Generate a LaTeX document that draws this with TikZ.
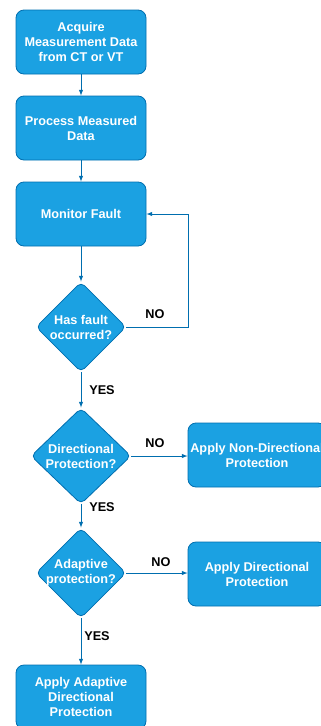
\documentclass[tikz,border=0pt]{standalone}
\usepackage{fontspec}
\setmainfont{Liberation Sans}
\usetikzlibrary{shapes.geometric}
\definecolor{boxfill}{HTML}{1BA1E2}
\definecolor{boxline}{HTML}{006EAF}
\begin{document}
\begin{tikzpicture}[x=1pt,y=-1pt,
    stepbox/.style={draw=boxline,fill=boxfill,rounded corners=8pt,line width=0.8pt,
      minimum width=130pt,minimum height=64pt,inner sep=0pt,align=center,
      text=white,font=\bfseries\fontsize{12.7}{15}\selectfont},
    wide/.style={stepbox,minimum width=138pt},
    query/.style={diamond,draw=boxline,fill=boxfill,rounded corners=5pt,line width=0.8pt,
      minimum width=90pt,minimum height=90pt,inner sep=-8pt,align=center,
      text=white,font=\bfseries\fontsize{12.7}{15}\selectfont},
    tag/.style={font=\bfseries\fontsize{12.7}{15}\selectfont},
    arr/.style={-latex,draw=boxline,line width=1pt}]
  \useasboundingbox (0,0) rectangle (321,726);
  \draw
    (81,42) node[stepbox] (acq){Acquire\\Measurement Data\\from CT or VT}
    (81,128) node[stepbox] (proc){Process Measured\\Data}
    (81,214) node[stepbox] (mon){Monitor Fault}
    (81,327) node[query] (fault){Has fault\\occurred?}
    (81,456) node[query,minimum width=100pt,minimum height=96pt] (dir){Directional\\Protection?}
    (257,455) node[wide] (nondir){Apply Non-Directional\\Protection}
    (81,573) node[query] (adapt){Adaptive\\protection?}
    (257,574) node[wide] (applydir){Apply Directional\\Protection}
    (81,697) node[stepbox] (applyad){Apply Adaptive\\Directional\\Protection};
  \coordinate (loop) at (188,214);
  \begin{scope}[arr]
    \draw (acq) to (proc);
    \draw (proc) to (mon);
    \draw (mon) to (fault);
    \draw[-] (fault.east) -| (loop);
    \draw (loop) to (mon.east);
    \draw (fault) to (dir);
    \draw (dir) to (nondir.west |- dir);
    \draw (dir) to (adapt);
    \draw (adapt) to (applydir.west |- adapt);
    \draw (adapt) to (applyad);
  \end{scope}
  \node[tag] (no1) at (155,314) {NO};
  \node[tag] (yes1) at (102,390) {YES};
  \node[tag] (no2) at (155,443) {NO};
  \node[tag] (yes2) at (102,507) {YES};
  \node[tag] (no3) at (161,562) {NO};
  \node[tag] (yes3) at (97,636) {YES};
\end{tikzpicture}
\end{document}
